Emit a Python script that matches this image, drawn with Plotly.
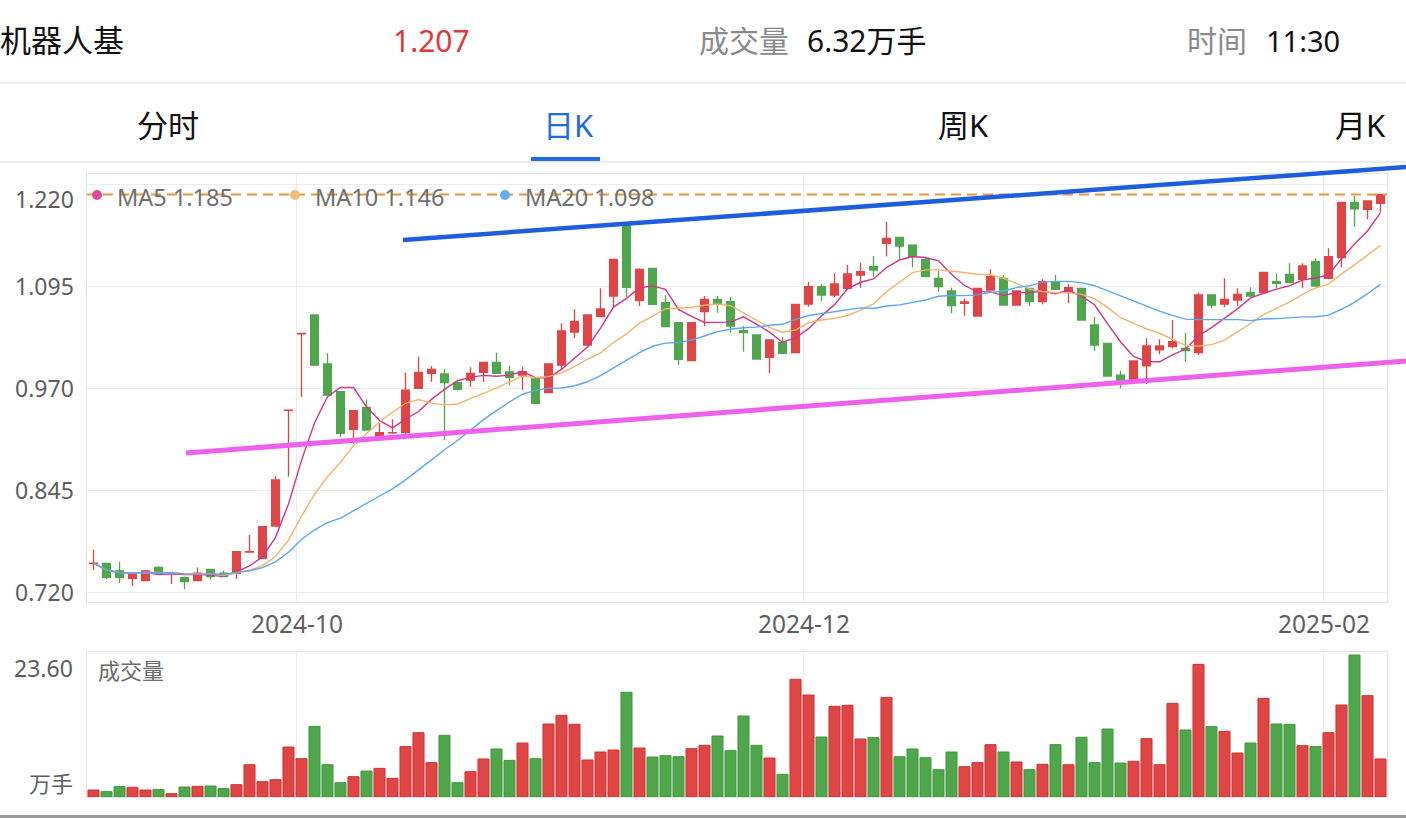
import plotly.graph_objects as go
import pandas as pd

W, H = 1406, 818

# ---------------- data ----------------
holidays = ["2024-09-16", "2024-09-17", "2024-10-01", "2024-10-02", "2024-10-03",
            "2024-10-04", "2024-10-07", "2025-01-01", "2025-01-28", "2025-01-29",
            "2025-01-30", "2025-01-31", "2025-02-03", "2025-02-04"]
dates = [d.strftime("%Y-%m-%d") for d in pd.bdate_range("2024-09-05", "2025-02-11")
         if d.strftime("%Y-%m-%d") not in holidays]

opens = [0.7550, 0.7550, 0.7460, 0.7367, 0.7339, 0.7500, 0.7425, 0.7376, 0.7339, 0.7478,
         0.7430, 0.7430, 0.7690, 0.7613, 0.8009, 0.9425, 1.0365, 1.0595, 0.9994, 0.9655,
         0.9193, 0.9463, 0.9112, 0.9150, 0.9153, 0.9696, 0.9880, 0.9872, 0.9765, 0.9798,
         0.9892, 1.0015, 0.9896, 0.9859, 0.9810, 0.9643, 0.9982, 1.0386, 1.0227, 1.0574,
         1.0827, 1.1685, 1.0770, 1.1167, 1.0746, 1.0500, 1.0035, 1.0635, 1.0787, 1.0758,
         1.0403, 1.0350, 1.0076, 1.0256, 1.0133, 1.0729, 1.0942, 1.0840, 1.0921, 1.1085,
         1.1187, 1.1473, 1.1546, 1.1452, 1.1277, 1.1044, 1.0889, 1.0738, 1.0582, 1.0901,
         1.1044, 1.0717, 1.0921, 1.0758, 1.1003, 1.0881, 1.0921, 1.0472, 1.0247, 0.9859,
         0.9806, 0.9970, 1.0166, 1.0207, 1.0186, 1.0133, 1.0840, 1.0729, 1.0778, 1.0868,
         1.0868, 1.1003, 1.1093, 1.1032, 1.1248, 1.1044, 1.1297, 1.1975, 1.1890, 1.1963]
highs = [0.7720, 0.7550, 0.7570, 0.7430, 0.7470, 0.7515, 0.7430, 0.7390, 0.7500, 0.7480,
         0.7463, 0.7694, 0.7899, 0.8000, 0.8622, 0.9430, 1.0370, 1.0595, 1.0125, 0.9655,
         0.9422, 0.9560, 0.9267, 0.9316, 0.9890, 1.0084, 0.9970, 0.9933, 0.9780, 0.9953,
         1.0015, 1.0133, 0.9974, 0.9961, 0.9830, 0.9994, 1.0493, 1.0664, 1.0603, 1.0921,
         1.1277, 1.1698, 1.1167, 1.1167, 1.0840, 1.0500, 1.0501, 1.0827, 1.0827, 1.0819,
         1.0460, 1.0350, 1.0288, 1.0321, 1.0725, 1.1003, 1.0970, 1.1105, 1.1207, 1.1236,
         1.1318, 1.1738, 1.1546, 1.1452, 1.1290, 1.1134, 1.0930, 1.0799, 1.0921, 1.1154,
         1.1085, 1.0889, 1.0921, 1.1036, 1.1085, 1.0975, 1.0921, 1.0574, 1.0247, 0.9912,
         1.0031, 1.0309, 1.0296, 1.0533, 1.0378, 1.0868, 1.0840, 1.1044, 1.0921, 1.0934,
         1.1118, 1.1105, 1.1228, 1.1228, 1.1289, 1.1412, 1.1975, 1.2057, 1.1992, 1.2070]
lows = [0.7470, 0.7360, 0.7310, 0.7274, 0.7335, 0.7420, 0.7298, 0.7237, 0.7335, 0.7355,
        0.7385, 0.7360, 0.7685, 0.7613, 0.8000, 0.8613, 0.9590, 0.9980, 0.9614, 0.9100,
        0.9020, 0.9185, 0.9055, 0.9140, 0.9135, 0.9696, 0.9778, 0.9063, 0.9670, 0.9716,
        0.9769, 0.9880, 0.9737, 0.9676, 0.9512, 0.9643, 0.9920, 1.0309, 1.0227, 1.0574,
        1.0697, 1.0819, 1.0705, 1.0725, 1.0452, 0.9982, 1.0035, 1.0460, 1.0623, 1.0378,
        1.0145, 1.0055, 0.9880, 1.0125, 1.0133, 1.0697, 1.0766, 1.0811, 1.0901, 1.0930,
        1.1064, 1.1310, 1.1277, 1.1179, 1.1064, 1.0881, 1.0615, 1.0586, 1.0582, 1.0901,
        1.0717, 1.0717, 1.0705, 1.0725, 1.0909, 1.0738, 1.0533, 1.0158, 0.9847, 0.9696,
        0.9806, 0.9749, 1.0113, 1.0186, 1.0023, 1.0104, 1.0676, 1.0689, 1.0705, 1.0811,
        1.0868, 1.0921, 1.0991, 1.0921, 1.0950, 1.1044, 1.1179, 1.1677, 1.1767, 1.1861]
closes = [0.7555, 0.7380, 0.7380, 0.7417, 0.7460, 0.7430, 0.7430, 0.7327, 0.7430, 0.7388,
          0.7388, 0.7694, 0.7694, 0.8000, 0.8573, 0.9430, 1.0370, 0.9980, 0.9614, 0.9144,
          0.9422, 0.9185, 0.9153, 0.9153, 0.9675, 0.9892, 0.9929, 0.9765, 0.9684, 0.9880,
          1.0015, 0.9880, 0.9831, 0.9900, 0.9512, 0.9994, 1.0399, 1.0517, 1.0595, 1.0668,
          1.1277, 1.0934, 1.1154, 1.0725, 1.0452, 1.0051, 1.0501, 1.0787, 1.0738, 1.0460,
          1.0378, 1.0055, 1.0288, 1.0125, 1.0725, 1.0942, 1.0840, 1.0975, 1.1097, 1.1126,
          1.1146, 1.1534, 1.1440, 1.1310, 1.1064, 1.0942, 1.0709, 1.0754, 1.0921, 1.1064,
          1.0717, 1.0889, 1.0758, 1.1003, 1.0909, 1.0930, 1.0533, 1.0227, 0.9847, 0.9798,
          1.0031, 1.0215, 1.0215, 1.0268, 1.0158, 1.0840, 1.0717, 1.0787, 1.0848, 1.0827,
          1.1118, 1.0983, 1.0991, 1.1195, 1.0950, 1.1310, 1.1975, 1.1894, 1.1992, 1.2070]
volumes = [1.16, 0.89, 1.72, 1.61, 1.16, 1.22, 0.55, 1.66, 1.77, 1.83,
           1.39, 2.05, 5.37, 2.55, 2.88, 8.31, 6.37, 11.74, 5.37, 2.38,
           3.38, 4.32, 4.76, 3.10, 8.37, 10.69, 5.71, 10.25, 2.38, 4.21,
           6.32, 7.98, 6.09, 8.97, 6.37, 12.13, 13.57, 12.08, 6.15, 7.48,
           7.81, 17.40, 8.14, 6.65, 6.87, 6.70, 8.03, 8.59, 10.14, 7.70,
           13.46, 8.59, 6.48, 3.77, 19.56, 16.95, 9.97, 15.07, 15.24, 9.64,
           9.86, 16.56, 6.70, 7.98, 6.54, 4.54, 7.48, 5.04, 5.71, 8.70,
           7.48, 5.82, 4.54, 5.43, 8.70, 5.37, 9.92, 5.71, 11.30, 5.65,
           5.93, 9.70, 5.37, 15.57, 11.14, 22.05, 11.69, 10.91, 7.31, 8.97,
           16.40, 12.13, 12.08, 8.53, 8.37, 10.69, 15.29, 23.60, 16.84, 6.32]

ma_periods = [5, 10, 20]
ma_names = ["MA5", "MA10", "MA20"]
ma_label_values = ["1.185", "1.146", "1.098"]
month_labels = ["2024-10", "2024-12", "2025-02"]
price_ticks = [0.720, 0.845, 0.970, 1.095, 1.220]
vol_max_label = "23.60"

# ---------------- style ----------------
RED = "#E04545"
RED_EDGE = "#D03232"
GREEN = "#4FA64C"
GREEN_EDGE = "#3E9A3A"
MA_COLORS = ["#D2348A", "#F0B46C", "#5AA6F0"]
GRID = "#ECECEC"
AXIS_TXT = "#5E5E5E"
FONT = "Noto Sans, Noto Sans CJK SC"


def PX(x):
    return x / W


def PY(y):
    return 1 - y / H


n = len(dates)
xs = list(range(n))
ma_series = [pd.Series(closes).rolling(p, min_periods=1).mean() for p in ma_periods]
vol_colors = [RED if c >= o else GREEN for o, c in zip(opens, closes)]
vol_edges = [RED_EDGE if c >= o else GREEN_EDGE for o, c in zip(opens, closes)]

# month grid positions (first trading day of the labelled months)
tick_idx = []
for lab in month_labels:
    tick_idx.append(next(i for i, d in enumerate(dates) if d.startswith(lab)))
tick_pos = [i - 0.35 for i in tick_idx]

fig = go.Figure()

fig.add_trace(go.Candlestick(
    x=xs, open=opens, high=highs, low=lows, close=closes,
    increasing=dict(line=dict(color=RED, width=1.3), fillcolor=RED),
    decreasing=dict(line=dict(color=GREEN, width=1.3), fillcolor=GREEN),
    whiskerwidth=0, showlegend=False, hoverinfo="skip",
    xaxis="x", yaxis="y"))

for s, c in zip(ma_series, MA_COLORS):
    fig.add_trace(go.Scatter(x=xs, y=s, mode="lines", line=dict(color=c, width=1.4),
                             showlegend=False, hoverinfo="skip", xaxis="x", yaxis="y"))

fig.add_trace(go.Bar(x=xs, y=volumes, marker=dict(color=vol_colors,
                                                  line=dict(color=vol_edges, width=1)),
                     showlegend=False, hoverinfo="skip", xaxis="x2", yaxis="y2"))

xdom = [PX(87), PX(1387)]
fig.update_layout(
    width=W, height=H,
    margin=dict(l=0, r=0, t=0, b=0),
    paper_bgcolor="white", plot_bgcolor="white",
    font=dict(family=FONT, color=AXIS_TXT),
    boxgap=0.15, bargap=0.15,
    xaxis=dict(domain=xdom, anchor="y", range=[-0.5, n - 0.5],
               tickmode="array", tickvals=tick_pos, ticktext=month_labels,
               tickfont=dict(size=24.5, color=AXIS_TXT, family=FONT),
               ticks="", showgrid=True, gridcolor=GRID, gridwidth=1.3,
               zeroline=False, showline=True, linecolor="#E3E3E3", linewidth=1.3,
               mirror=True, rangeslider=dict(visible=False), fixedrange=True),
    yaxis=dict(domain=[PY(602), PY(174)], anchor="x",
               range=[0.72 - 10 / 816, 0.72 + 418 / 816],
               tickmode="array", tickvals=price_ticks, showticklabels=False,
               showgrid=True, gridcolor=GRID, gridwidth=1.3, zeroline=False,
               showline=True, linecolor="#E3E3E3", linewidth=1.3, mirror=True,
               fixedrange=True),
    xaxis2=dict(domain=xdom, anchor="y2", matches="x", range=[-0.5, n - 0.5],
                tickmode="array", tickvals=tick_pos, showticklabels=False, ticks="",
                showgrid=True, gridcolor=GRID, gridwidth=1.3, zeroline=False,
                showline=True, linecolor="#E3E3E3", linewidth=1.3, mirror=True,
                fixedrange=True),
    yaxis2=dict(domain=[PY(797), PY(652)], anchor="x2", range=[0, 23.6 * 145 / 142],
                showticklabels=False, showgrid=False, zeroline=False,
                showline=True, linecolor="#E3E3E3", linewidth=1.3, mirror=True,
                fixedrange=True),
)

shapes = []
# header separators
shapes.append(dict(type="line", xref="paper", yref="paper", x0=0, x1=1, y0=PY(83), y1=PY(83),
                   line=dict(color="#E6E6E6", width=1.5)))
shapes.append(dict(type="line", xref="paper", yref="paper", x0=0, x1=1, y0=PY(162), y1=PY(162),
                   line=dict(color="#E6E6E6", width=1.5)))
shapes.append(dict(type="rect", xref="paper", yref="paper", x0=PX(531), x1=PX(600),
                   y0=PY(161), y1=PY(157), fillcolor="#1F6BE0", line=dict(width=0)))
shapes.append(dict(type="rect", xref="paper", yref="paper", x0=0, x1=1,
                   y0=PY(818), y1=PY(815), fillcolor="#9A9A9A", line=dict(width=0)))
# last price dashed line
shapes.append(dict(type="line", xref="paper", yref="y", x0=PX(87), x1=PX(1387),
                   y0=closes[-1], y1=closes[-1], layer="above",
                   line=dict(color="#E8963A", width=2, dash="10px,6px")))
# hand-drawn trend lines
shapes.append(dict(type="line", xref="paper", yref="paper", x0=PX(403), y0=PY(240),
                   x1=PX(1406), y1=PY(167), layer="above",
                   line=dict(color="#1E5EDC", width=4.5)))
shapes.append(dict(type="line", xref="paper", yref="paper", x0=PX(186), y0=PY(453),
                   x1=PX(1406), y1=PY(361), layer="above",
                   line=dict(color="#EC62EC", width=5)))
# legend dots
for cx, c in zip([97, 295, 505], ["#DD4C97", "#F2BC7C", "#63AAF2"]):
    shapes.append(dict(type="circle", xref="paper", yref="paper",
                       x0=PX(cx - 5), x1=PX(cx + 5), y0=PY(200), y1=PY(190),
                       fillcolor=c, line=dict(width=0), layer="above"))
fig.update_layout(shapes=shapes)

ann = []


def T(text, x, y, size, color, anchor="left"):
    ann.append(dict(text=text, x=PX(x), y=PY(y), xref="paper", yref="paper",
                    xanchor=anchor, yanchor="middle", showarrow=False,
                    font=dict(size=size, color=color, family=FONT)))


# header
T("机器人基", -2, 40, 31, "#111111")
T(f"{closes[-1]:.3f}", 431, 40, 30, "#E0383A", "center")
T("成交量", 697, 40, 30, "#8A8A8A")
T(f"{volumes[-1]:.2f}万手", 805, 40, 30, "#111111")
T("时间", 1185, 40, 30, "#8A8A8A")
T("11:30", 1264, 40, 29, "#111111")
# tabs
T("分时", 168, 125, 31, "#111111", "center")
T("日K", 568, 125, 31, "#1F6BE0", "center")
T("周K", 963, 125, 31, "#111111", "center")
T("月K", 1360, 125, 31, "#111111", "center")
# legend
for x0, name, val in zip([115, 313, 523], ma_names, ma_label_values):
    T(f"{name} {val}", x0, 197, 23.5, "#707070")
# price axis labels
for v in price_ticks:
    ypx = 592 - (v - 0.72) / 0.125 * 102
    if v == price_ticks[-1]:
        ypx += 15
    T(f"{v:.3f}", 76, ypx, 23, AXIS_TXT, "right")
# volume axis labels
T(vol_max_label, 75, 668, 23, AXIS_TXT, "right")
T("万手", 75, 783, 22, AXIS_TXT, "right")
T("成交量", 96, 670, 22, "#6A6A6A")
fig.update_layout(annotations=ann)

fig.write_html("out.html")
